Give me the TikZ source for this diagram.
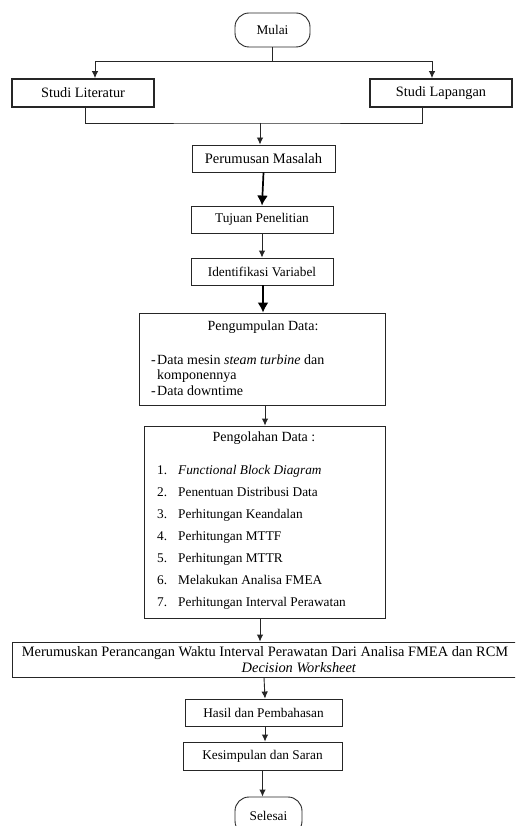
\documentclass[tikz,border=0pt]{standalone}
\usepackage{fontspec}
\setmainfont{Liberation Serif}
\usetikzlibrary{arrows.meta,calc}
\tikzset{
  boxn/.style={draw=black!85, line width=0.9pt, inner sep=0pt, align=center,
     font=\fontsize{13.3}{16}\selectfont},
  thickbox/.style={boxn, line width=1.8pt, font=\fontsize{14.3}{16}\selectfont},
  term/.style={boxn, rounded corners=14pt},
  txt/.style={inner sep=0pt, font=\fontsize{13.3}{16}\selectfont},
  bigtxt/.style={inner sep=0pt, font=\fontsize{14}{16}\selectfont},
  ln/.style={draw=black!85, line width=0.9pt},
  arr/.style={ln, -{Latex[length=7pt,width=6.5pt]}},
  bigarr/.style={draw=black, line width=1.7pt, -{Latex[length=10pt,width=11pt]}}
}
\begin{document}
\begin{tikzpicture}[x=1pt,y=-1pt]
\useasboundingbox (0,0) rectangle (515,826);
\clip (0,0) rectangle (515,826);
\fill[white] (0,0) rectangle (515,826);

\node[term, minimum width=75, minimum height=34] (mulai) at (272.5,30) {Mulai};
\node[thickbox, minimum width=142, minimum height=28] (lit) at (83,93) {Studi Literatur};
\node[thickbox, minimum width=142, minimum height=28] (lap) at (441,93) {Studi Lapangan};
\node[boxn, minimum width=143, minimum height=27, font=\fontsize{14.5}{16}\selectfont] (rum) at (263.5,158.5) {Perumusan Masalah};
\node[boxn, minimum width=142, minimum height=27] (tuj) at (262,219.5) {Tujuan Penelitian};
\node[boxn, minimum width=142, minimum height=27] (ide) at (262,271.5) {Identifikasi Variabel};
\node[boxn, minimum width=246, minimum height=92] (kum) at (262,359) {};
\node[boxn, minimum width=241, minimum height=192] (lah) at (264.5,522) {};
\node[boxn, minimum width=505, minimum height=35] (mer) at (264.5,659.5) {};
\node[boxn, minimum width=157, minimum height=27] (has) at (263.5,712.5) {Hasil dan Pembahasan};
\node[boxn, minimum width=159, minimum height=28] (kes) at (262.5,756) {Kesimpulan dan Saran};
\node[term, minimum width=67, minimum height=38] (sel) at (268.5,816) {Selesai};

% texts in Pengumpulan
\node[bigtxt] (kumt) at (263,327) {Pengumpulan Data:};
\node[bigtxt, anchor=base west] (k1d) at (151,364.5) {-};
\node[bigtxt, anchor=base west] (k1) at (157,364.5) {Data mesin \textit{steam turbine} dan};
\node[bigtxt, anchor=base west] (k2) at (157,379.5) {komponennya};
\node[bigtxt, anchor=base west] (k3d) at (151,395.5) {-};
\node[bigtxt, anchor=base west] (k3) at (157,395.5) {Data downtime};

% texts in Pengolahan
\node[bigtxt] (laht) at (264,438) {Pengolahan Data :};
\foreach \n/\y/\t in {1/470/{\textit{Functional Block Diagram}},
                      2/491.5/{Penentuan Distribusi Data},
                      3/513.5/{Perhitungan Keandalan},
                      4/536/{Perhitungan MTTF},
                      5/557.5/{Perhitungan MTTR},
                      6/580/{Melakukan Analisa FMEA},
                      7/602/{Perhitungan Interval Perawatan}}{
  \node[txt, anchor=base west] (ln\n) at (157,\y+4.5) {\n.};
  \node[txt, anchor=base west] (lt\n) at (178,\y+4.5) {\t};
}

% texts in Merumuskan
\node[txt, font=\fontsize{14.4}{16}\selectfont, anchor=base] (m1) at (265,656.5) {Merumuskan Perancangan Waktu Interval Perawatan Dari Analisa FMEA dan RCM};
\node[txt, font=\fontsize{14.4}{16}\selectfont, anchor=base] (m2) at (299,672.5) {\textit{Decision Worksheet}};

% connectors
\coordinate (j1) at (272.5,61);
\draw[ln] (mulai.south) -- (j1);
\draw[arr] (j1) -| ([xshift=12pt]lit.north);
\draw[arr] (j1) -| ([xshift=-9pt]lap.north);
\coordinate (j2) at (260,123);
\draw[ln] ([xshift=2pt]lit.south) |- (j2) -| ([xshift=-19pt]lap.south);
\draw[arr] (j2) -- (j2 |- rum.north);
\draw[bigarr] (rum.south) -- (tuj.north);
\draw[arr] (tuj.south) -- (ide.north);
\draw[bigarr] ([xshift=1pt]ide.south) -- ([xshift=1pt]ide.south |- kum.north);
\draw[arr] ([xshift=3pt]kum.south) -- ([xshift=3pt]kum.south |- lah.north);
\draw[arr] ([xshift=-4.5pt]lah.south) -- ([xshift=-4.5pt]lah.south |- mer.north);
\draw[arr] ([xshift=0.5pt]mer.south -| has.south) -- ([xshift=1.5pt]has.north);
\draw[arr] ([xshift=1.5pt]has.south) -- ([xshift=2.5pt]kes.north);
\draw[arr] (kes.south) -- (kes.south |- sel.north);
\end{tikzpicture}
\end{document}
